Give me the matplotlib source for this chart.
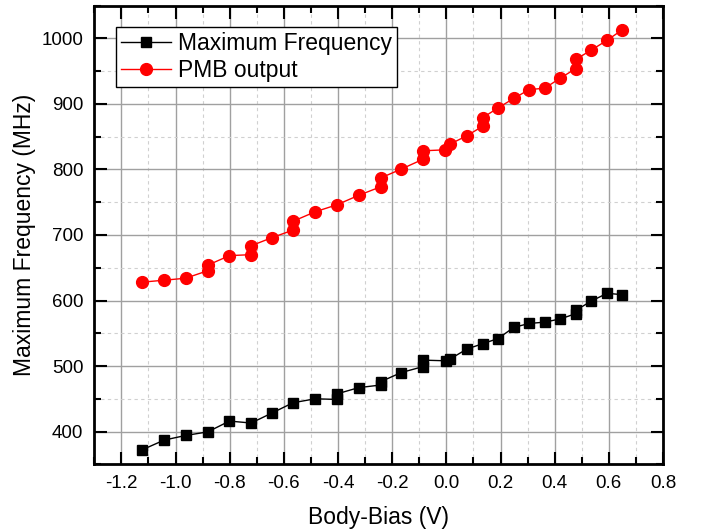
import matplotlib
matplotlib.use("Agg")
import matplotlib.pyplot as plt
from matplotlib.ticker import MultipleLocator

plt.rcParams['font.family'] = ['Liberation Sans', 'DejaVu Sans']

# Maximum Frequency (black squares)
bias_max = [-1.124, -1.042, -0.963, -0.881, -0.801, -0.721, -0.643, -0.566, -0.484,
            -0.404, -0.404, -0.324, -0.243, -0.243, -0.167, -0.087, -0.087, -0.003,
            0.015, 0.076, 0.134, 0.191, 0.249, 0.306, 0.364, 0.421, 0.479, 0.479,
            0.534, 0.594, 0.647]
freq_max = [372, 387, 394, 399.5, 416, 413, 428.5, 444, 450,
            449, 457.5, 467, 471, 476, 490, 499, 509, 508,
            511, 526, 534, 542, 559, 565, 567, 572, 580, 585,
            599, 611, 609]

# PMB output (red circles)
bias_pmb = [-1.124, -1.042, -0.963, -0.881, -0.881, -0.801, -0.721, -0.721, -0.644,
            -0.566, -0.566, -0.484, -0.405, -0.324, -0.243, -0.243, -0.167, -0.087,
            -0.087, -0.004, 0.015, 0.076, 0.134, 0.134, 0.191, 0.249, 0.306, 0.363,
            0.421, 0.478, 0.478, 0.534, 0.593, 0.647]
freq_pmb = [628, 631, 634, 645.5, 654, 668.5, 670, 683.5, 696,
            707.5, 721, 735.5, 746, 760.5, 773.5, 787, 800.5, 815.5,
            828.5, 830, 839, 851.5, 866, 879, 894, 908.5, 922, 924,
            939.5, 954, 968, 982, 997, 1012.5]

labels = ["Maximum Frequency", "PMB output"]

fig = plt.figure(figsize=(7.06, 5.31), dpi=100)
ax = fig.add_axes([0.1336, 0.1256, 0.9391 - 0.1336, 0.9893 - 0.1256])

ax.plot(bias_max, freq_max, color='black', lw=1, marker='s', ms=7.5,
        mfc='black', mec='black', label=labels[0], zorder=3)
ax.plot(bias_pmb, freq_pmb, color='red', lw=1, marker='o', ms=8.5,
        mfc='red', mec='red', label=labels[1], zorder=3)

ax.set_xlim(-1.3, 0.8)
ax.set_ylim(350, 1050)
ax.xaxis.set_major_locator(MultipleLocator(0.2))
ax.xaxis.set_minor_locator(MultipleLocator(0.1))
ax.yaxis.set_major_locator(MultipleLocator(100))
ax.yaxis.set_minor_locator(MultipleLocator(50))
ax.set_xticks([-1.2, -1.0, -0.8, -0.6, -0.4, -0.2, 0.0, 0.2, 0.4, 0.6, 0.8])
ax.set_xticklabels(["-1.2", "-1.0", "-0.8", "-0.6", "-0.4", "-0.2", "0.0",
                    "0.2", "0.4", "0.6", "0.8"])
ax.set_yticks([400, 500, 600, 700, 800, 900, 1000])

ax.grid(which='major', color='#a0a0a0', lw=1, ls='-', zorder=0)
ax.grid(which='minor', color='#d0d0d0', lw=0.8, ls=(0, (3, 3)), zorder=0)
ax.set_axisbelow(True)

ax.tick_params(which='both', direction='in', top=True, right=True,
               width=1.5, colors='black')
ax.tick_params(which='major', length=9, labelsize=13.5, pad=8)
ax.tick_params(which='minor', length=5)
for s in ax.spines.values():
    s.set_linewidth(2)

ax.set_xlabel("Body-Bias (V)", fontsize=16.5, labelpad=10)
ax.set_ylabel("Maximum Frequency (MHz)", fontsize=16.5, labelpad=4)

leg = ax.legend(loc='upper left', bbox_to_anchor=(0.0376, 0.954), borderaxespad=0,
                fontsize=16.5, fancybox=False, framealpha=1, edgecolor='black',
                labelspacing=0.2, borderpad=0.22, handlelength=2.2,
                handletextpad=0.3)
leg.get_frame().set_linewidth(1)

fig.savefig("out.png", dpi=100)
